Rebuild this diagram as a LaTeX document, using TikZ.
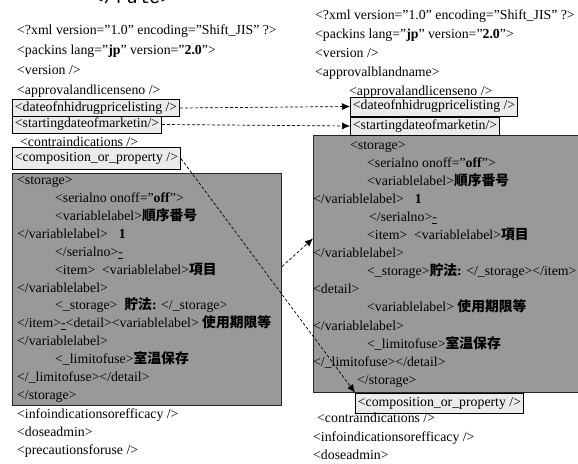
\documentclass[tikz,border=0pt]{standalone}
\usepackage{fontspec}
\setmainfont{Liberation Serif}
\setmonofont{Liberation Mono}
\newfontfamily\cjkfont{Noto Sans CJK JP}
\usetikzlibrary{arrows.meta}
\newcommand\xmlsize{\fontsize{13.8pt}{18pt}\selectfont}
\newcommand\kanji[1]{{\cjkfont\bfseries #1}}
\newcommand\udash{\underline{-}}

\begin{document}
\begin{tikzpicture}[x=1pt, y=-1pt,
  xline/.style={anchor=base west, inner sep=0pt, font=\xmlsize},
  tagbox/.style={draw, fill=black!8, line width=0.8pt, anchor=west, inner xsep=2.5pt, inner ysep=0pt,
                 minimum height=17pt, font=\xmlsize},
  storebox/.style={draw=black!85, fill=black!40, line width=1pt, anchor=north west, inner sep=0pt},
  link/.style={densely dashed, -{Latex[length=8pt, width=7pt]}, line width=0.7pt},
]
  \useasboundingbox (0,0) rectangle (578,463);

  % ---- Storage blocks ----
  \node[storebox, minimum width=269pt, minimum height=232pt] (lstore) at (12,173) {};
  \node[storebox, minimum width=290pt, minimum height=257pt] (rstore) at (313,135) {};

  % ---- Title (cut off) ----
  \node[anchor=base west, inner sep=0pt, font=\ttfamily\fontsize{19pt}{19pt}\selectfont] (rule) at (92,4) {</rule>};

  % ---- Left document ----
  \node[xline] (l1) at (17,34.5) {<?xml version="1.0" encoding="Shift\_JIS" ?>};
  \node[xline] (l2) at (17,54.5) {<packins lang="\textbf{jp}" version="\textbf{2.0}">};
  \node[xline] (l3) at (17,74.5) {<version />};
  \node[xline] (l4) at (17,94.5) {<approvalandlicenseno />};
  \node[tagbox] (ldate) at (12,108) {<dateofnhidrugpricelisting />};
  \node[tagbox] (lstart) at (12,124.5) {<startingdateofmarketin/>};
  \node[xline] (l5) at (20,146.5) {<contraindications />};
  \node[tagbox, minimum height=22pt] (lcomp) at (12,158.5) {<composition\_or\_property />};

  \node[xline] (ls1) at (17,184.5) {<storage>};
  \node[xline] (ls2) at (55,202.5) {<serialno onoff="\textbf{off}">};
  \node[xline] (ls3) at (55,220.5) {<variablelabel>\kanji{順序番号}};
  \node[xline] (ls4) at (17,238.5) {</variablelabel>\hspace{0.8em}\textbf{1}};
  \node[xline] (ls5) at (55,256.5) {</serialno>\udash};
  \node[xline] (ls6) at (55,274.5) {<item>\ \ <variablelabel>\kanji{項目}};
  \node[xline] (ls7) at (17,292.5) {</variablelabel>};
  \node[xline] (ls8) at (55,309.5) {<\_storage>\ \ \kanji{貯法}\textbf{:} </\_storage>};
  \node[xline] (ls9) at (17,327.5) {</item>\udash<detail><variablelabel> \kanji{使用期限等}};
  \node[xline] (ls10) at (17,345.5) {</variablelabel>};
  \node[xline] (ls11) at (55,363.5) {<\_limitofuse>\kanji{室温保存}};
  \node[xline] (ls12) at (17,381.5) {</\_limitofuse></detail>};
  \node[xline] (ls13) at (17,399.5) {</storage>};

  \node[xline] (l6) at (17,418.5) {<infoindicationsorefficacy />};
  \node[xline] (l7) at (17,436.5) {<doseadmin>};
  \node[xline] (l8) at (17,454.5) {<precautionsforuse />};

  % ---- Right document ----
  \node[xline] (r1) at (315,19.5) {<?xml version="1.0" encoding="Shift\_JIS" ?>};
  \node[xline] (r2) at (315,38.5) {<packins lang="\textbf{jp}" version="\textbf{2.0}">};
  \node[xline] (r3) at (315,57.5) {<version />};
  \node[xline] (r4) at (315,76.5) {<approvalblandname>};
  \node[xline] (r5) at (349,95.5) {<approvalandlicenseno />};
  \node[tagbox, minimum height=19pt] (rdate) at (350,106.5) {<dateofnhidrugpricelisting />};
  \node[tagbox, minimum height=18pt] (rstart) at (350,126) {<startingdateofmarketin/>};

  \node[xline] (rs1) at (350,149.5) {<storage>};
  \node[xline] (rs2) at (367,167.5) {<serialno onoff="\textbf{off}">};
  \node[xline] (rs3) at (367,185.5) {<variablelabel>\kanji{順序番号}};
  \node[xline] (rs4) at (313,203.5) {</variablelabel>\hspace{0.8em}\textbf{1}};
  \node[xline] (rs5) at (369,221.5) {</serialno>\udash};
  \node[xline] (rs6) at (367,239.5) {<item>\ \ <variablelabel>\kanji{項目}};
  \node[xline] (rs7) at (313,257.5) {</variablelabel>};
  \node[xline] (rs8) at (367,275.5) {<\_storage>\kanji{貯法}\textbf{:} </\_storage></item>};
  \node[xline] (rs9) at (313,293.5) {<detail>};
  \node[xline] (rs10) at (367,311.5) {<variablelabel> \kanji{使用期限等}};
  \node[xline] (rs11) at (313,330.5) {</variablelabel>};
  \node[xline] (rs12) at (367,348.5) {<\_limitofuse>\kanji{室温保存}};
  \node[xline] (rs13) at (313,366.5) {</\_limitofuse></detail>};
  \node[xline] (rs14) at (357,384.5) {</storage>};

  \node[tagbox, minimum height=20pt] (rcomp) at (355,403) {<composition\_or\_property />};
  \node[xline] (r6) at (317,422.5) {<contraindications />};
  \node[xline] (r7) at (313,441.5) {<infoindicationsorefficacy />};
  \node[xline] (r8) at (313,459.5) {<doseadmin>};

  % ---- Links ----
  \draw[link] (ldate.east) -- (rdate.west);
  \draw[link] (lstart.east) -- (rstart.west);
  \draw[link] (lcomp.east) -- (rcomp.north west);
  \draw[link] ([yshift=23pt]lstore.east) -- ([yshift=25.5pt]rstore.west);
\end{tikzpicture}
\end{document}
